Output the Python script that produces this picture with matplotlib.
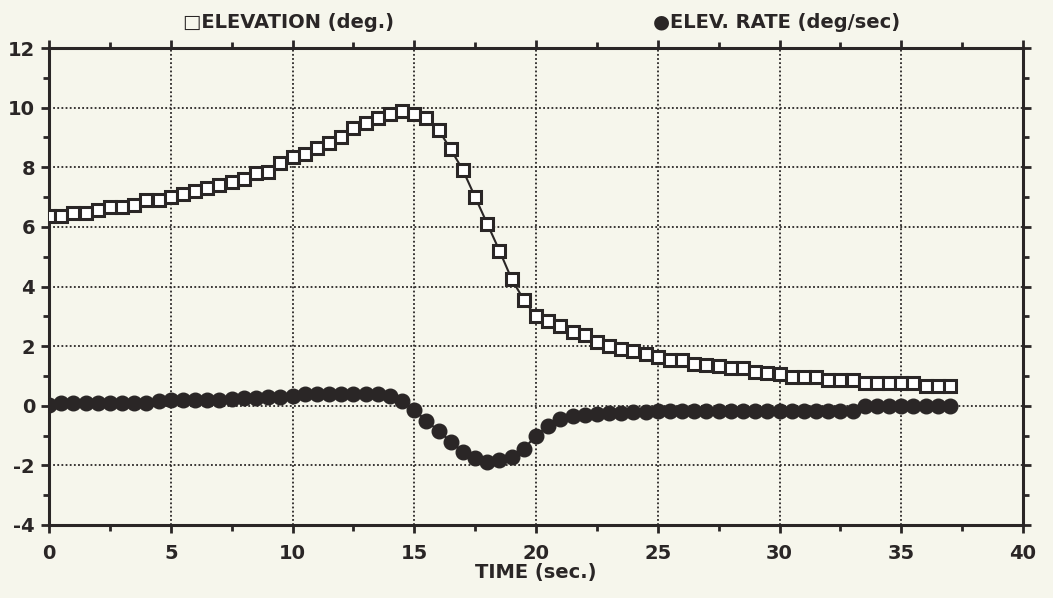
import numpy as np
import matplotlib
matplotlib.use("Agg")
import matplotlib.pyplot as plt
from matplotlib.ticker import MultipleLocator

plt.rcParams["axes.unicode_minus"] = False

# ---- data (time step 0.5 s, 0..37 s) ----
time = [i * 0.5 for i in range(75)]
elevation = [6.35, 6.35, 6.45, 6.45, 6.55, 6.65, 6.65, 6.73, 6.9, 6.9,
             7.0, 7.1, 7.2, 7.3, 7.4, 7.5, 7.6, 7.8, 7.85, 8.15,
             8.35, 8.45, 8.65, 8.8, 9.0, 9.3, 9.5, 9.65, 9.8, 9.9,
             9.8, 9.65, 9.25, 8.6, 7.9, 7.0, 6.1, 5.2, 4.25, 3.55,
             3.0, 2.85, 2.67, 2.47, 2.38, 2.15, 2.0, 1.92, 1.83, 1.75,
             1.63, 1.55, 1.55, 1.4, 1.37, 1.32, 1.25, 1.25, 1.12, 1.1,
             1.06, 0.98, 0.98, 0.98, 0.86, 0.86, 0.88, 0.75, 0.75, 0.75,
             0.77, 0.77, 0.66, 0.66, 0.66]
elev_rate = [0.03, 0.08, 0.08, 0.08, 0.08, 0.08, 0.08, 0.08, 0.1, 0.15,
             0.2, 0.2, 0.2, 0.2, 0.2, 0.22, 0.27, 0.27, 0.3, 0.3,
             0.32, 0.38, 0.38, 0.38, 0.38, 0.38, 0.38, 0.38, 0.32, 0.15,
             -0.15, -0.5, -0.85, -1.2, -1.55, -1.75, -1.88, -1.82, -1.72, -1.45,
             -1.0, -0.68, -0.45, -0.35, -0.3, -0.27, -0.25, -0.23, -0.22, -0.2,
             -0.18, -0.18, -0.18, -0.18, -0.18, -0.18, -0.18, -0.18, -0.18, -0.18,
             -0.18, -0.18, -0.18, -0.18, -0.18, -0.18, -0.18, 0.0, 0.0, 0.0,
             0.0, 0.0, 0.0, 0.0, 0.0]

label_elev = "ELEVATION (deg.)"
label_rate = "ELEV. RATE (deg/sec)"
xlabel = "TIME (sec.)"

ink = "#2a2626"
bg = "#f6f6ec"

fig = plt.figure(figsize=(10.53, 5.98), dpi=100, facecolor=bg)
ax = fig.add_axes([49/1053, 1-525/598, (1023-49)/1053, (525-48)/598])
ax.set_facecolor(bg)

ax.plot(time, elev_rate, color=ink, lw=1.5, marker="o", ms=10.5,
        mfc=ink, mec=ink, zorder=3)
ax.plot(time, elevation, color=ink, lw=1.5, marker="s", ms=8.0,
        mfc="white", mec=ink, mew=2.2, zorder=4)

ax.set_xlim(0, 40)
ax.set_ylim(-4, 12)
ax.xaxis.set_major_locator(MultipleLocator(5))
ax.xaxis.set_minor_locator(MultipleLocator(2.5))
ax.yaxis.set_major_locator(MultipleLocator(2))
ax.yaxis.set_minor_locator(MultipleLocator(1))
ax.grid(True, which="major", color=ink, lw=1.3, linestyle=(0, (1, 1.3)))

for s in ax.spines.values():
    s.set_linewidth(2.2)
    s.set_color(ink)

ax.tick_params(which="both", direction="out", colors=ink, top=True, right=True,
               labelsize=14, width=2)
ax.tick_params(which="major", length=6, pad=4)
ax.tick_params(which="minor", length=4)
ax.tick_params(axis="x", pad=8)
for lab in ax.get_xticklabels() + ax.get_yticklabels():
    lab.set_fontweight("bold")

ax.set_xlabel(xlabel, fontsize=14, color=ink, labelpad=0, fontweight="bold")

fig.text(288/1053, 1-22/598, "\u25a1" + label_elev, ha="center", va="center",
         fontsize=14, color=ink, fontweight="bold")
fig.text(777/1053, 1-22/598, "\u25cf" + label_rate, ha="center", va="center",
         fontsize=14, color=ink, fontweight="bold")

fig.savefig("out.png", dpi=100, facecolor=bg)
